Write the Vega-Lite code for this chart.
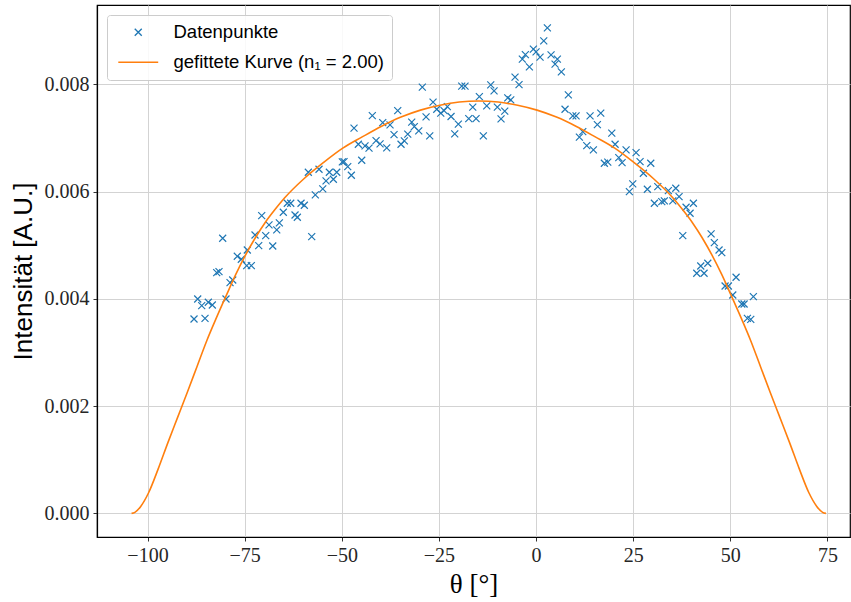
{
  "$schema": "https://vega.github.io/schema/vega-lite/v6.json",
  "width": 753,
  "height": 532,
  "autosize": {"type": "none"},
  "padding": {"left": 97, "top": 5, "right": 1, "bottom": 65},
  "background": "white",
  "config": {
    "view": {"stroke": "#000000", "strokeWidth": 1.2},
    "axis": {
      "domainColor": "#000000",
      "domainWidth": 1.2,
      "tickColor": "#333333",
      "tickSize": 4,
      "tickWidth": 1,
      "labelFont": "Liberation Serif",
      "labelFontSize": 20,
      "labelColor": "#262626",
      "labelPadding": 4,
      "gridColor": "#d3d3d3",
      "gridWidth": 1,
      "titleColor": "#000000",
      "titleFontWeight": "normal"
    }
  },
  "datasets": {
    "pts": [
      {"theta": -42.14, "I": 0.007418}, {"theta": -46.85, "I": 0.007183}, {"theta": -45.74, "I": 0.006884},
      {"theta": -44.02, "I": 0.006853}, {"theta": -42.99, "I": 0.00681}, {"theta": -41.18, "I": 0.006952},
      {"theta": -44.87, "I": 0.006586}, {"theta": -58.61, "I": 0.006362}, {"theta": -55.86, "I": 0.006418},
      {"theta": -53.2, "I": 0.006362}, {"theta": -51.3, "I": 0.006362}, {"theta": -49.86, "I": 0.006554},
      {"theta": -49.42, "I": 0.00656}, {"theta": -48.47, "I": 0.006467}, {"theta": -47.54, "I": 0.006306},
      {"theta": -52.17, "I": 0.006231}, {"theta": -54.05, "I": 0.0062}, {"theta": -54.9, "I": 0.006051},
      {"theta": -56.81, "I": 0.005939}, {"theta": -64.02, "I": 0.005784}, {"theta": -63.14, "I": 0.005784},
      {"theta": -60.49, "I": 0.005784}, {"theta": -59.64, "I": 0.005746}, {"theta": -65.05, "I": 0.005616},
      {"theta": -62.03, "I": 0.005565}, {"theta": -61.44, "I": 0.005522}, {"theta": -70.61, "I": 0.005552},
      {"theta": -68.73, "I": 0.005379}, {"theta": -66.07, "I": 0.005416}, {"theta": -66.74, "I": 0.005286},
      {"theta": -72.33, "I": 0.005192}, {"theta": -69.58, "I": 0.005179}, {"theta": -80.65, "I": 0.005131},
      {"theta": -57.74, "I": 0.00516}, {"theta": -71.38, "I": 0.004993}, {"theta": -67.77, "I": 0.004987},
      {"theta": -74.31, "I": 0.004912}, {"theta": -76.89, "I": 0.004795}, {"theta": -75.86, "I": 0.004739},
      {"theta": -74.47, "I": 0.004619}, {"theta": -73.28, "I": 0.004619}, {"theta": -82.19, "I": 0.004489},
      {"theta": -81.6, "I": 0.004508}, {"theta": -78.07, "I": 0.004353}, {"theta": -78.76, "I": 0.004302},
      {"theta": -87.08, "I": 0.003998}, {"theta": -86.05, "I": 0.003873}, {"theta": -84.35, "I": 0.003937},
      {"theta": -83.32, "I": 0.003886}, {"theta": -79.8, "I": 0.003998}, {"theta": -88.03, "I": 0.003625},
      {"theta": -85.2, "I": 0.003638},
      {"theta": 2.91, "I": 0.009054}, {"theta": 1.98, "I": 0.008812}, {"theta": -3.53, "I": 0.00847},
      {"theta": -2.75, "I": 0.008556}, {"theta": -1.72, "I": 0.008327}, {"theta": -0.69, "I": 0.008657},
      {"theta": 0.0, "I": 0.008606}, {"theta": 1.03, "I": 0.008508}, {"theta": 3.86, "I": 0.008551},
      {"theta": 5.48, "I": 0.00847}, {"theta": 4.89, "I": 0.008377}, {"theta": 6.51, "I": 0.008233},
      {"theta": -5.41, "I": 0.008134}, {"theta": -4.38, "I": 0.007996}, {"theta": -7.28, "I": 0.007748},
      {"theta": -6.51, "I": 0.007711}, {"theta": -11.66, "I": 0.007991}, {"theta": -10.81, "I": 0.007879},
      {"theta": -19.13, "I": 0.007967}, {"theta": -18.28, "I": 0.007967}, {"theta": -29.27, "I": 0.007948},
      {"theta": -14.59, "I": 0.007772}, {"theta": -16.29, "I": 0.007575}, {"theta": -12.69, "I": 0.007599},
      {"theta": -9.96, "I": 0.007575}, {"theta": -8.06, "I": 0.0075}, {"theta": -9.01, "I": 0.007357},
      {"theta": -17.32, "I": 0.007362}, {"theta": -15.44, "I": 0.007362}, {"theta": -13.57, "I": 0.007039},
      {"theta": -20.0, "I": 0.007258}, {"theta": -20.93, "I": 0.007077}, {"theta": -26.51, "I": 0.007668},
      {"theta": -25.56, "I": 0.007537}, {"theta": -24.53, "I": 0.007463}, {"theta": -23.68, "I": 0.007511},
      {"theta": -22.83, "I": 0.007586}, {"theta": -21.88, "I": 0.0074}, {"theta": -28.31, "I": 0.007394},
      {"theta": -27.36, "I": 0.007039}, {"theta": -32.0, "I": 0.007295}, {"theta": -31.33, "I": 0.007213},
      {"theta": -30.19, "I": 0.007133}, {"theta": -35.6, "I": 0.007511}, {"theta": -33.02, "I": 0.007071},
      {"theta": -33.9, "I": 0.006946}, {"theta": -34.75, "I": 0.006884}, {"theta": -36.55, "I": 0.007063},
      {"theta": -37.58, "I": 0.007244}, {"theta": -39.46, "I": 0.007287}, {"theta": -40.15, "I": 0.00689},
      {"theta": -38.43, "I": 0.006815},
      {"theta": 8.31, "I": 0.007804}, {"theta": 7.46, "I": 0.007537}, {"theta": 9.45, "I": 0.007412},
      {"theta": 10.3, "I": 0.007412}, {"theta": 13.9, "I": 0.007412}, {"theta": 16.65, "I": 0.007463},
      {"theta": 15.78, "I": 0.00725}, {"theta": 12.02, "I": 0.00712}, {"theta": 11.15, "I": 0.007015},
      {"theta": 13.05, "I": 0.006858}, {"theta": 14.75, "I": 0.006778}, {"theta": 19.49, "I": 0.00709},
      {"theta": 20.34, "I": 0.006884}, {"theta": 23.17, "I": 0.006778}, {"theta": 25.74, "I": 0.006728},
      {"theta": 21.29, "I": 0.006634}, {"theta": 22.14, "I": 0.006541}, {"theta": 17.58, "I": 0.00653},
      {"theta": 18.46, "I": 0.006549}, {"theta": 26.77, "I": 0.00656}, {"theta": 29.52, "I": 0.00653},
      {"theta": 27.62, "I": 0.006343}, {"theta": 24.89, "I": 0.006144}, {"theta": 24.02, "I": 0.006},
      {"theta": 28.65, "I": 0.006045}, {"theta": 31.33, "I": 0.006093}, {"theta": 34.05, "I": 0.006019},
      {"theta": 35.96, "I": 0.006063}, {"theta": 36.81, "I": 0.005907}, {"theta": 30.45, "I": 0.005784},
      {"theta": 32.36, "I": 0.005813}, {"theta": 33.02, "I": 0.005827}, {"theta": 35.19, "I": 0.005827},
      {"theta": 38.61, "I": 0.005709}, {"theta": 40.49, "I": 0.005784}, {"theta": 39.64, "I": 0.005597},
      {"theta": 37.76, "I": 0.005179}, {"theta": 45.05, "I": 0.005211}, {"theta": 45.89, "I": 0.005049},
      {"theta": 47.1, "I": 0.004912}, {"theta": 47.8, "I": 0.004862}, {"theta": 44.2, "I": 0.004664},
      {"theta": 42.39, "I": 0.004614}, {"theta": 41.36, "I": 0.004478}, {"theta": 43.24, "I": 0.004478},
      {"theta": 51.48, "I": 0.004403}, {"theta": 48.65, "I": 0.004241}, {"theta": 49.5, "I": 0.004241},
      {"theta": 50.63, "I": 0.004073}, {"theta": 52.95, "I": 0.003905}, {"theta": 53.54, "I": 0.003905},
      {"theta": 55.93, "I": 0.004041}, {"theta": 54.39, "I": 0.003638}, {"theta": 55.26, "I": 0.003619}
    ],
    "fit": [
      {"theta": -104.1, "I": 0.0}, {"theta": -103.25, "I": 0.00002}, {"theta": -101.75, "I": 0.00013},
      {"theta": -99.75, "I": 0.00038}, {"theta": -97.25, "I": 0.00083}, {"theta": -94.75, "I": 0.00132},
      {"theta": -92.25, "I": 0.00179}, {"theta": -89.75, "I": 0.00226}, {"theta": -87.25, "I": 0.00274},
      {"theta": -84.75, "I": 0.00322}, {"theta": -82.25, "I": 0.00365}, {"theta": -79.75, "I": 0.00406},
      {"theta": -77.25, "I": 0.00446}, {"theta": -74.75, "I": 0.00482}, {"theta": -72.25, "I": 0.00514},
      {"theta": -69.75, "I": 0.00542}, {"theta": -67.25, "I": 0.00566}, {"theta": -64.75, "I": 0.00588},
      {"theta": -59.75, "I": 0.00624}, {"theta": -54.75, "I": 0.00654}, {"theta": -49.75, "I": 0.00681},
      {"theta": -44.75, "I": 0.00702}, {"theta": -39.75, "I": 0.00722}, {"theta": -34.75, "I": 0.00739},
      {"theta": -29.75, "I": 0.00752}, {"theta": -24.75, "I": 0.00761}, {"theta": -19.75, "I": 0.00767},
      {"theta": -14.75, "I": 0.00769}, {"theta": -9.75, "I": 0.00767}, {"theta": -4.75, "I": 0.00761},
      {"theta": 0.25, "I": 0.00752}, {"theta": 5.25, "I": 0.00739}, {"theta": 10.25, "I": 0.00722},
      {"theta": 15.25, "I": 0.00702}, {"theta": 20.25, "I": 0.00681}, {"theta": 25.25, "I": 0.00654},
      {"theta": 30.25, "I": 0.00624}, {"theta": 35.25, "I": 0.00588}, {"theta": 37.75, "I": 0.00566},
      {"theta": 40.25, "I": 0.00542}, {"theta": 42.75, "I": 0.00514}, {"theta": 45.25, "I": 0.00482},
      {"theta": 47.75, "I": 0.00446}, {"theta": 50.25, "I": 0.00406}, {"theta": 52.75, "I": 0.00365},
      {"theta": 55.25, "I": 0.00322}, {"theta": 57.75, "I": 0.00274}, {"theta": 60.25, "I": 0.00226},
      {"theta": 62.75, "I": 0.00179}, {"theta": 65.25, "I": 0.00132}, {"theta": 67.75, "I": 0.00083},
      {"theta": 70.25, "I": 0.00038}, {"theta": 72.25, "I": 0.00013}, {"theta": 73.75, "I": 0.00002},
      {"theta": 74.6, "I": 0.0}
    ]
  },
  "layer": [
    {
      "data": {"name": "pts"},
      "mark": {"type": "point", "size": 49, "strokeWidth": 1.2, "filled": false, "opacity": 1},
      "encoding": {
        "x": {"field": "theta", "type": "quantitative",
              "scale": {"domain": [-113, 80.8], "nice": false, "zero": false},
              "axis": {"values": [-100, -75, -50, -25, 0, 25, 50, 75], "format": "d", "title": "θ [°]",
                       "titleFont": "Liberation Serif", "titleFontSize": 27, "titlePadding": 6}},
        "y": {"field": "I", "type": "quantitative",
              "scale": {"domain": [-0.00044, 0.00948], "nice": false, "zero": false},
              "axis": {"values": [0, 0.002, 0.004, 0.006, 0.008], "format": ".3f", "title": "Intensität [A.U.]",
                       "titleFont": "Liberation Sans", "titleFontSize": 26, "titlePadding": 8}},
        "shape": {"datum": "Datenpunkte", "type": "nominal",
                  "scale": {"domain": ["Datenpunkte", "gefittete Kurve (n₁ = 2.00)"], "range": ["M-1,-1L1,1M-1,1L1,-1", "M-5.7,0L5.7,0"]},
                  "legend": {"orient": "none", "legendX": 10, "legendY": 10, "title": null,
                             "strokeColor": "#cccccc", "fillColor": "rgba(255,255,255,0.85)", "cornerRadius": 3,
                             "padding": 8, "labelFont": "Liberation Sans", "labelFontSize": 18.5, "labelColor": "#000000",
                             "labelLimit": 0,
                             "labelBaseline": "middle", "symbolSize": 49, "symbolStrokeWidth": 1.4,
                             "symbolOffset": 14, "labelOffset": 26, "rowPadding": 11}},
        "color": {"datum": "Datenpunkte", "type": "nominal",
                  "scale": {"domain": ["Datenpunkte", "gefittete Kurve (n₁ = 2.00)"], "range": ["#1f77b4", "#ff7f0e"]},
                  "legend": {"orient": "none", "legendX": 10, "legendY": 10, "title": null,
                             "strokeColor": "#cccccc", "fillColor": "rgba(255,255,255,0.85)", "cornerRadius": 3,
                             "padding": 8, "labelFont": "Liberation Sans", "labelFontSize": 18.5, "labelColor": "#000000",
                             "labelLimit": 0,
                             "labelBaseline": "middle", "symbolSize": 49, "symbolStrokeWidth": 1.4,
                             "symbolOffset": 14, "labelOffset": 26, "rowPadding": 11}}
      }
    },
    {
      "data": {"name": "fit"},
      "mark": {"type": "line", "strokeWidth": 1.6, "interpolate": "monotone"},
      "encoding": {
        "x": {"field": "theta", "type": "quantitative"},
        "y": {"field": "I", "type": "quantitative"},
        "color": {"datum": "gefittete Kurve (n₁ = 2.00)", "type": "nominal"}
      }
    }
  ]
}
